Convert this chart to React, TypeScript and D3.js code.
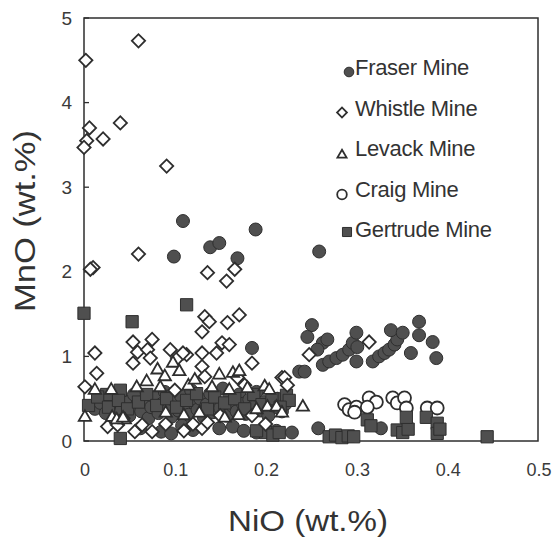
import React from "react";
import * as d3 from "d3";

// [NiO wt.%, MnO wt.%] pairs for each mine
const fraser: [number, number][] = [
  [0.109, 2.6], [0.099, 2.18], [0.139, 2.29], [0.149, 2.34], [0.189, 2.5], [0.169, 2.16], [0.259, 2.24],
  [0.185, 1.1],
  [0.251, 1.37], [0.246, 1.23], [0.263, 1.16], [0.268, 1.2], [0.257, 1.08], [0.237, 0.82], [0.243, 0.82],
  [0.263, 0.9], [0.27, 0.94], [0.278, 0.98], [0.285, 1.02], [0.292, 1.08], [0.296, 1.16], [0.3, 1.28],
  [0.301, 1.11], [0.3, 0.94], [0.318, 0.94], [0.325, 1.0], [0.331, 1.04], [0.336, 1.08], [0.342, 1.14],
  [0.345, 1.2], [0.338, 1.31], [0.351, 1.28], [0.36, 1.04], [0.369, 1.41], [0.369, 1.25], [0.384, 1.17],
  [0.388, 0.98],
  [0.012, 0.38], [0.018, 0.45], [0.024, 0.33], [0.03, 0.5], [0.035, 0.41], [0.041, 0.36], [0.046, 0.47],
  [0.05, 0.3], [0.055, 0.55], [0.058, 0.42], [0.063, 0.35], [0.067, 0.48], [0.071, 0.27], [0.074, 0.4],
  [0.078, 0.52], [0.082, 0.33], [0.086, 0.44], [0.089, 0.58], [0.093, 0.38], [0.097, 0.29], [0.1, 0.47],
  [0.104, 0.36], [0.107, 0.53], [0.111, 0.42], [0.115, 0.31], [0.118, 0.6], [0.121, 0.45], [0.125, 0.37],
  [0.128, 0.5], [0.132, 0.28], [0.135, 0.43], [0.139, 0.56], [0.142, 0.34], [0.146, 0.47], [0.15, 0.39],
  [0.153, 0.62], [0.157, 0.3], [0.16, 0.51], [0.164, 0.41], [0.168, 0.35], [0.171, 0.55], [0.175, 0.44],
  [0.178, 0.32], [0.182, 0.49], [0.186, 0.4], [0.19, 0.58], [0.194, 0.36], [0.198, 0.46], [0.203, 0.3],
  [0.208, 0.42], [0.213, 0.5], [0.218, 0.35], [0.222, 0.44],
  [0.062, 0.15], [0.085, 0.11], [0.096, 0.09], [0.108, 0.18], [0.12, 0.13], [0.149, 0.15], [0.164, 0.17],
  [0.176, 0.12], [0.19, 0.1], [0.197, 0.12], [0.205, 0.1], [0.212, 0.12], [0.229, 0.1], [0.258, 0.15],
  [0.327, 0.15],
];

const gertrude: [number, number][] = [
  [0.0, 1.51], [0.053, 1.41], [0.113, 1.61], [0.025, 0.55], [0.04, 0.6], [0.04, 0.03],
  [0.223, 0.54], [0.226, 0.48], [0.27, 0.05], [0.277, 0.07], [0.284, 0.04], [0.291, 0.06], [0.297, 0.05],
  [0.312, 0.25], [0.316, 0.18], [0.345, 0.13], [0.351, 0.1], [0.357, 0.14], [0.355, 0.28], [0.377, 0.28],
  [0.389, 0.21], [0.389, 0.09], [0.392, 0.14], [0.444, 0.05],
  [0.005, 0.42], [0.015, 0.52], [0.027, 0.4], [0.038, 0.48], [0.048, 0.38], [0.06, 0.46], [0.069, 0.55],
  [0.08, 0.42], [0.091, 0.5], [0.102, 0.4], [0.113, 0.48], [0.124, 0.56], [0.136, 0.38], [0.144, 0.52],
  [0.155, 0.45], [0.166, 0.5], [0.177, 0.38], [0.187, 0.55], [0.196, 0.43], [0.207, 0.5], [0.216, 0.4],
  [0.2, 0.1], [0.208, 0.07], [0.215, 0.1], [0.19, 0.12],
];

const craig: [number, number][] = [
  [0.287, 0.43], [0.292, 0.37], [0.3, 0.4], [0.298, 0.34], [0.314, 0.51], [0.322, 0.46], [0.312, 0.4],
  [0.34, 0.51], [0.345, 0.45], [0.353, 0.51], [0.355, 0.39], [0.378, 0.39], [0.389, 0.39],
];

const whistle: [number, number][] = [
  [0.002, 4.5], [0.06, 4.73], [0.006, 3.7], [0.003, 3.55], [0.0, 3.47], [0.021, 3.57], [0.04, 3.76],
  [0.091, 3.25], [0.06, 2.21], [0.01, 2.05], [0.007, 2.03], [0.136, 1.99], [0.157, 1.89], [0.166, 2.03],
  [0.133, 1.47], [0.138, 1.41], [0.13, 1.29], [0.158, 1.4], [0.171, 1.49], [0.152, 1.16], [0.16, 1.14],
  [0.146, 1.04], [0.113, 1.02], [0.13, 1.04], [0.185, 0.92], [0.13, 0.88], [0.133, 0.76], [0.169, 0.75],
  [0.177, 0.66], [0.218, 0.75], [0.13, 0.15], [0.136, 0.22],
  [0.012, 1.04], [0.014, 0.8], [0.001, 0.64], [0.054, 1.17], [0.059, 1.05], [0.054, 0.92], [0.075, 1.2],
  [0.07, 1.08], [0.073, 0.98], [0.095, 1.08], [0.103, 0.98], [0.109, 1.04], [0.026, 0.17], [0.037, 0.19],
  [0.043, 0.27], [0.056, 0.11], [0.064, 0.19], [0.075, 0.11],
  [0.221, 0.75], [0.224, 0.66], [0.248, 1.02], [0.314, 1.17],
  [0.15, 0.3], [0.12, 0.2], [0.1, 0.6], [0.185, 0.3], [0.2, 0.2], [0.11, 0.12], [0.09, 0.2],
];

const levack: [number, number][] = [
  [0.001, 0.28], [0.012, 0.6], [0.069, 0.7], [0.081, 0.84], [0.089, 0.76], [0.098, 0.92], [0.105, 0.82],
  [0.084, 0.63], [0.058, 0.63], [0.149, 0.78], [0.164, 0.8], [0.171, 0.82], [0.141, 0.63], [0.199, 0.64],
  [0.19, 0.37], [0.202, 0.4], [0.212, 0.4], [0.127, 0.33], [0.241, 0.4], [0.218, 0.33], [0.204, 0.6],
  [0.031, 0.28], [0.045, 0.25], [0.036, 0.25], [0.043, 0.27], [0.11, 0.3], [0.155, 0.27], [0.17, 0.3],
  [0.09, 0.33], [0.03, 0.6], [0.115, 0.65], [0.122, 0.72], [0.16, 0.6], [0.18, 0.62],
];

const xTicks = [0, 0.1, 0.2, 0.3, 0.4, 0.5];
const yTicks = [0, 1, 2, 3, 4, 5];
const legendNames = ["Fraser Mine", "Whistle Mine", "Levack Mine", "Craig Mine", "Gertrude Mine"];

const W = 554;
const H = 541;
const plot = { left: 84, right: 538, top: 18, bottom: 441 };

const x = d3.scaleLinear().domain([0, 0.5]).range([plot.left, plot.right]);
const y = d3.scaleLinear().domain([0, 5]).range([plot.bottom, plot.top]);

const INK = "#2e2e2e";
const FILL = "#4f4f4f";
const FONT = "'Liberation Sans', Arial, sans-serif";

type Kind = "circleFill" | "diamond" | "triangle" | "circleOpen" | "square";

const shapePath = (kind: Kind, scale: number) => {
  const s = d3.symbol();
  if (kind === "circleFill" || kind === "circleOpen") return s.type(d3.symbolCircle).size(132 * scale)();
  if (kind === "square") return s.type(d3.symbolSquare).size(150 * scale)();
  if (kind === "diamond") return s.type(d3.symbolSquare).size(88 * scale)();
  return s.type(d3.symbolTriangle).size(66 * scale)();
};

const Marker = ({ kind, cx, cy, scale = 1 }: { kind: Kind; cx: number; cy: number; scale?: number }) => {
  const filled = kind === "circleFill" || kind === "square";
  const rot = kind === "diamond" ? " rotate(45)" : "";
  return (
    <path
      d={shapePath(kind, scale)}
      transform={`translate(${cx},${cy})${rot}`}
      fill={filled ? FILL : "#fff"}
      stroke={INK}
      strokeWidth={filled ? 1 : 1.8}
    />
  );
};

const series: { data: [number, number][]; kind: Kind }[] = [
  { data: craig, kind: "circleOpen" },
  { data: fraser, kind: "circleFill" },
  { data: gertrude, kind: "square" },
  { data: whistle, kind: "diamond" },
  { data: levack, kind: "triangle" },
];

const legendKinds: Kind[] = ["circleFill", "diamond", "triangle", "circleOpen", "square"];
const legendMarkerX = [349, 342, 342, 342, 347];
const legendMarkerDy = [-3, -3, -1, -2, -5];

export default function App() {
  return (
    <svg width={W} height={H} style={{ display: "block", position: "absolute", left: 0, top: 0, background: "#fff" }}>
      <rect width={W} height={H} fill="#fff" />

      {/* frame */}
      <rect
        x={plot.left}
        y={plot.top}
        width={plot.right - plot.left}
        height={plot.bottom - plot.top}
        fill="none"
        stroke={INK}
        strokeWidth={1.5}
      />

      {/* y ticks (inward) and labels */}
      {yTicks.map((t) => (
        <g key={`y${t}`}>
          <line x1={plot.left} x2={plot.left + 5} y1={y(t)} y2={y(t)} stroke={INK} strokeWidth={1.3} />
          <text x={72} y={y(t) + 6.5} textAnchor="end" fontFamily={FONT} fontSize={19} fill="#3a3a3a">
            {t}
          </text>
        </g>
      ))}

      {/* x tick labels */}
      {xTicks.map((t) => (
        <text key={`x${t}`} x={x(t) + 1} y={476} textAnchor="middle" fontFamily={FONT} fontSize={18} fill="#3a3a3a">
          {t === 0 ? "0" : d3.format(".1f")(t)}
        </text>
      ))}

      {/* data points */}
      {series.map((s, i) => (
        <g key={i}>
          {s.data.map(([nx, my], j) => (
            <Marker key={j} kind={s.kind} cx={x(nx)} cy={y(my)} />
          ))}
        </g>
      ))}

      {/* legend */}
      {legendNames.map((name, i) => {
        const base = 75 + i * 40.5;
        return (
          <g key={name}>
            <Marker kind={legendKinds[i]} cx={legendMarkerX[i]} cy={base + legendMarkerDy[i]} scale={0.55} />
            <text x={355} y={base} fontFamily={FONT} fontSize={22} fill="#333" letterSpacing={-0.3}>
              {name}
            </text>
          </g>
        );
      })}

      {/* axis titles */}
      <text
        x={308}
        y={531}
        textAnchor="middle"
        fontFamily={FONT}
        fontSize={30}
        fill="#333"
        textLength={160}
        lengthAdjust="spacingAndGlyphs"
      >
        NiO (wt.%)
      </text>
      <text
        transform="translate(35,221) rotate(-90)"
        textAnchor="middle"
        fontFamily={FONT}
        fontSize={30}
        fill="#333"
        textLength={182}
        lengthAdjust="spacingAndGlyphs"
      >
        MnO (wt.%)
      </text>
    </svg>
  );
}
